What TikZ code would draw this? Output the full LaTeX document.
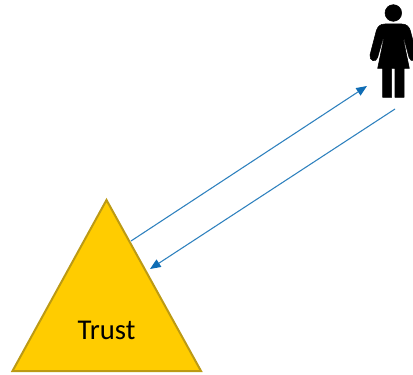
\documentclass[tikz,border=0pt]{standalone}
\usepackage{fontspec}
\setmainfont{Carlito}
\usetikzlibrary{arrows.meta}
\definecolor{trustfill}{HTML}{FFCC00}
\definecolor{trustedge}{HTML}{BC9A14}
\definecolor{arrowblue}{HTML}{2E81BE}
\definecolor{tipblue}{HTML}{0F6DB5}
\tikzset{
  link/.style={draw=arrowblue,line width=0.8pt,-{Triangle[length=8pt,width=6.5pt,color=tipblue]}},
  trustshape/.style={fill=trustfill,draw=trustedge,line width=1.5pt,line join=miter},
  figureink/.style={fill=black,draw=black,line width=0.4pt,line join=round}
}
\begin{document}
\begin{tikzpicture}[x=0.75pt,y=-0.75pt]
\useasboundingbox (0,0) rectangle (413,374);
\fill[white] (0,0) rectangle (413,374);
\coordinate (apex) at (106.5,200);
\coordinate (baseL) at (12.5,371);
\coordinate (baseR) at (201,371);
\draw[trustshape] (apex) -- (baseR) -- (baseL) -- cycle;
\node[font=\fontsize{21.5}{26}\selectfont,text=black,inner sep=0pt] (trust) at (106.5,330) {Trust};
% person, drawn in 3x zoom coordinates
\begin{scope}[shift={(340,0)},x=0.25pt,y=-0.25pt]
\filldraw[figureink] (160,39) circle (25);
\filldraw[figureink] (135,72) .. controls (120,72) and (113,80) .. (109,92)
  -- (90,165) .. controls (87,182) and (108,190) .. (113,172)
  -- (131,108) -- (131,118) -- (113,205) -- (128,205) -- (128,292) -- (155,292) -- (155,205)
  -- (165,205) -- (165,292) -- (192,292) -- (192,205) -- (208,205) -- (190,118) -- (190,108)
  -- (207,172) .. controls (212,190) and (233,182) .. (230,165)
  -- (211,92) .. controls (207,80) and (200,72) .. (185,72) -- cycle;
\end{scope}
\coordinate (outA) at (131,241);
\coordinate (outB) at (367,86);
\coordinate (backA) at (395,109);
\coordinate (backB) at (150,269);
\draw[link] (outA) -- (outB);
\draw[link] (backA) -- (backB);
\end{tikzpicture}
\end{document}
